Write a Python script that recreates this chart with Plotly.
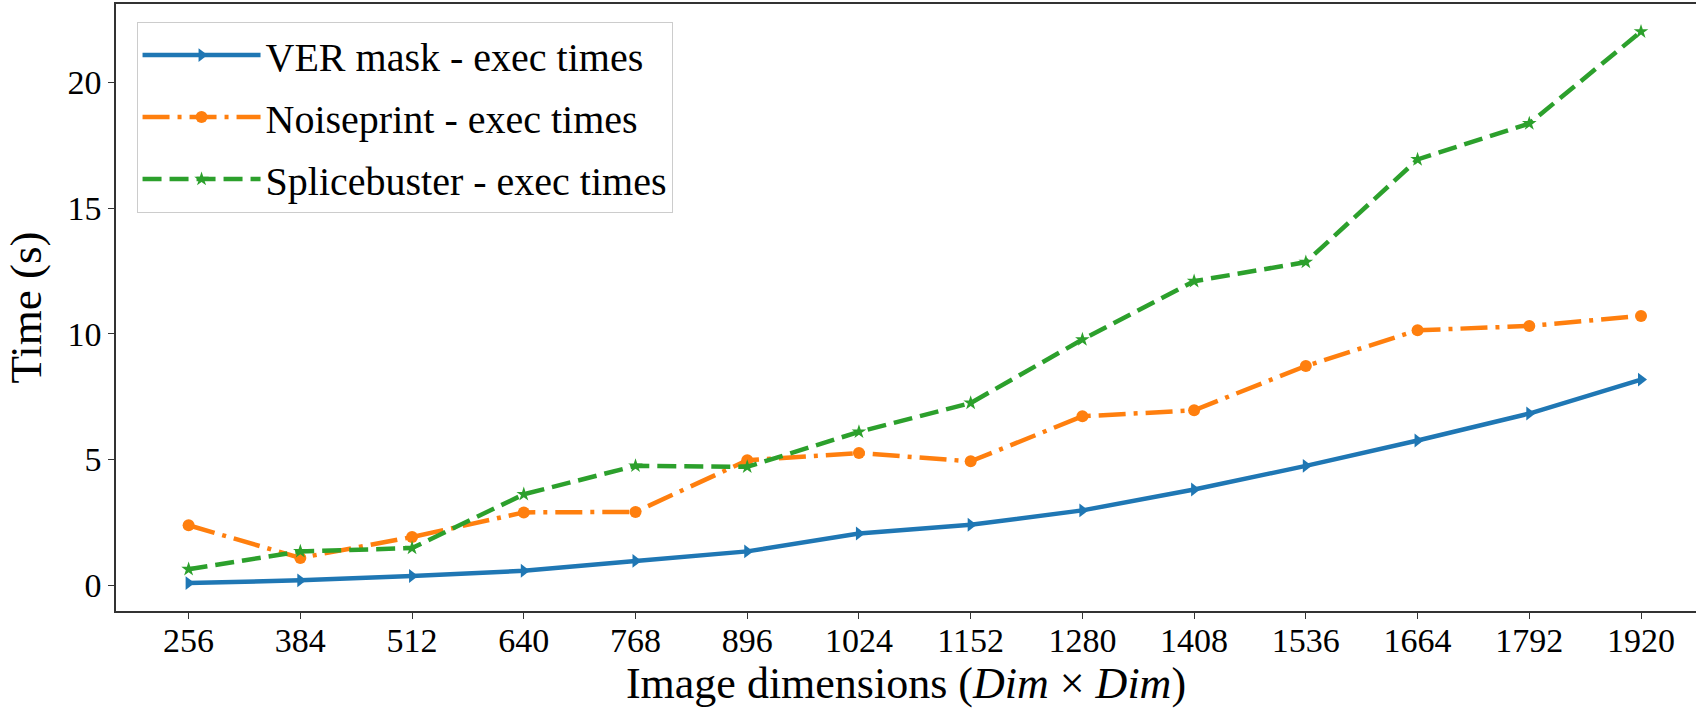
import plotly.graph_objects as go

dims = [256, 384, 512, 640, 768, 896, 1024, 1152, 1280, 1408, 1536, 1664, 1792, 1920]
ver_mask = [0.09, 0.20, 0.37, 0.58, 0.97, 1.35, 2.06, 2.41, 2.98, 3.81, 4.75, 5.76, 6.83, 8.18]
noiseprint = [2.39, 1.09, 1.92, 2.90, 2.92, 4.97, 5.26, 4.93, 6.72, 6.96, 8.72, 10.14, 10.31, 10.71]
splicebuster = [0.64, 1.35, 1.48, 3.62, 4.75, 4.71, 6.10, 7.25, 9.77, 12.09, 12.85, 16.93, 18.36, 22.01]
names = ["VER mask - exec times", "Noiseprint - exec times", "Splicebuster - exec times"]
y_ticks = [0, 5, 10, 15, 20]

FONT = "'Liberation Serif', 'Times New Roman', 'DejaVu Serif', serif"

fig = go.Figure()
fig.add_trace(go.Scatter(
    x=dims, y=ver_mask, name=names[0], mode="lines+markers", legendgroup="a",
    line=dict(color="#1f77b4", width=4.5),
    marker=dict(symbol="triangle-right", size=12, color="#1f77b4"),
))
fig.add_trace(go.Scatter(
    x=dims, y=noiseprint, name=names[1], mode="lines+markers", legendgroup="b",
    line=dict(color="#ff7f0e", width=4.5, dash="27px,8px,4px,8px"),
    marker=dict(symbol="circle", size=12, color="#ff7f0e"),
))
fig.add_trace(go.Scatter(
    x=dims, y=splicebuster, name=names[2], mode="lines+markers", legendgroup="c",
    line=dict(color="#2ca02c", width=4.5, dash="19px,8px"),
    marker=dict(symbol="star", size=11, color="#2ca02c"),
))

fig.update_layout(
    width=1696, height=708,
    margin=dict(l=116, r=0, t=4, b=97),
    paper_bgcolor="white", plot_bgcolor="white",
    font=dict(family=FONT, color="black", size=34),
    showlegend=True,
    legend=dict(
        x=0.013, y=0.971, xanchor="left", yanchor="top",
        bgcolor="rgba(255,255,255,0.8)", bordercolor="#cccccc", borderwidth=1,
        font=dict(family=FONT, size=40, color="black"),
        tracegroupgap=7, itemwidth=118,
    ),
    xaxis=dict(
        range=[172.8, 1983], tickmode="array", tickvals=dims,
        ticktext=[str(d) for d in dims],
        showline=True, linecolor="#333333", linewidth=1.5, mirror=True,
        ticks="outside", ticklen=6, tickcolor="#333333",
        showgrid=False, zeroline=False, ticklabelstandoff=-8,
        tickfont=dict(family=FONT, size=34),
        title=dict(text="Image dimensions (<i>Dim</i> × <i>Dim</i>)",
                   font=dict(family=FONT, size=44), standoff=0),
    ),
    yaxis=dict(
        range=[-1.02, 23.11], tickmode="array", tickvals=y_ticks,
        showline=True, linecolor="#333333", linewidth=1.5, mirror=False,
        ticks="outside", ticklen=6, tickcolor="#333333",
        showgrid=False, zeroline=False,
        tickfont=dict(family=FONT, size=34),
        title=dict(text="Time (s)", font=dict(family=FONT, size=45), standoff=12),
    ),
)

fig.write_html("out.html")
